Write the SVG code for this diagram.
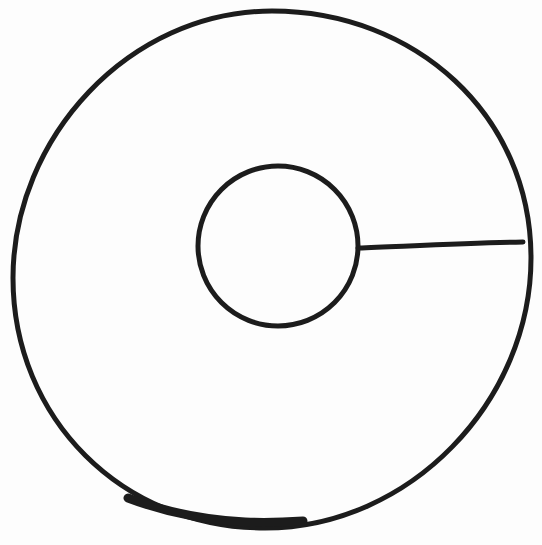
<svg xmlns="http://www.w3.org/2000/svg" width="542" height="545" viewBox="0 0 542 545">
<style>
.ink{fill:none;stroke:#1c1c1c;stroke-linecap:round;stroke-linejoin:round}
</style>
<rect width="542" height="545" fill="#fdfdfd"/>
<g id="outer">
<path class="ink" stroke-width="5" d="M272,11 C415,11 531,115 531,258 C531,401 410,528 265,528 C122,528 13,418 13,278 C13,138 129,11 272,11 Z"/>
<path class="ink" stroke-width="9" d="M128,498 C165,512 205,520 245,522 C268,523 288,522 303,521"/>
</g>
<g id="inner">
<ellipse class="ink" stroke-width="5" cx="278" cy="246" rx="80" ry="80"/>
</g>
<g id="connectors">
<path class="ink" stroke-width="5" d="M358,248 C410,246 470,243 523,242"/>
</g>
</svg>
